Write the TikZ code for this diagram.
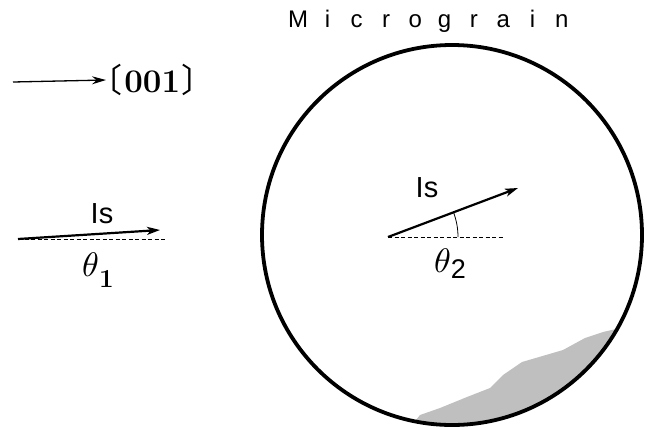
\documentclass[tikz,border=0pt]{standalone}
\usepackage{fontspec}
\setsansfont{Liberation Sans}
\newfontfamily\cjk{Noto Sans CJK JP}
\DeclareFontShape{OML}{cmm}{m}{it}{<->cmmi10}{}
\usetikzlibrary{arrows.meta}
\tikzset{
  vec/.style={line width=2.2pt,-{Stealth[length=13pt,width=8pt,inset=3.5pt]}},
  ref/.style={line width=0.8pt,dash pattern=on 4pt off 2.5pt},
  lbl/.style={inner sep=0pt,font=\sffamily\fontsize{29}{29}\selectfont},
  grain/.style={line width=3.8pt},
}
\begin{document}
\begin{tikzpicture}[x=1pt,y=-1pt]
\useasboundingbox (0,0) rectangle (647,429);
% circle (micrograin)
\coordinate (c) at (452,235);
\begin{scope}
  \clip (c) ellipse [x radius=190, y radius=190];
  \fill[black!25] (420,415) -- (440,408) -- (467,397) -- (490,388) -- (503,375) -- (522,362) -- (563,350) -- (585,338) -- (603,332) -- (625,327) -- (660,327) -- (660,440) -- (400,440) -- cycle;
\end{scope}
\draw[grain] (c) ellipse [x radius=190, y radius=190];
% title
\node[inner sep=0pt,font=\sffamily\fontsize{24}{24}\selectfont] (title) at (430,21)
  {\makebox[29.3pt]{M}\makebox[29.3pt]{i}\makebox[29.3pt]{c}\makebox[29.3pt]{r}\makebox[29.3pt]{o}\makebox[29.3pt]{g}\makebox[29.3pt]{r}\makebox[29.3pt]{a}\makebox[29.3pt]{i}\makebox[29.3pt]{n}};
% [001] direction
\coordinate (d0) at (13,82);
\node[inner sep=0pt,anchor=west,font=\fontsize{33}{33}\selectfont] (dir) at (106,80)
  {{\cjk\hspace{-0.5em}〔}\hspace{0.05em}\textbf{001}\hspace{0.05em}{\cjk 〕\hspace{-0.5em}}};
\draw[line width=1.3pt,-{Stealth[length=14pt,width=8pt]}] (d0) -- (dir.west);
% left vector
\coordinate (a0) at (18,239);
\coordinate (a1) at (160,230);
\coordinate (a2) at (165,239);
\draw[ref] (a0) -- (a2);
\draw[vec] (a0) -- (a1);
\node[lbl] (is1) at (102,214) {Is};
\node[inner sep=0pt] (th1) at (98,270) {\fontsize{34}{34}\selectfont$\theta$\raisebox{-11pt}{\fontsize{26}{26}\selectfont\bfseries 1}};
% right vector
\coordinate (b0) at (388,237);
\coordinate (b1) at (518,188);
\coordinate (b2) at (503,237);
\draw[ref] (b0) -- (b2);
\draw[vec] (b0) -- (b1);
\draw[line width=0.8pt] ([shift={(0:70)}]b0) arc[start angle=0,end angle=-20.6,radius=70];
\node[lbl] (is2) at (427,188) {Is};
\node[inner sep=0pt] (th2) at (450,264) {\fontsize{34}{34}\selectfont$\theta$\raisebox{-6pt}{\fontsize{27}{27}\selectfont\sffamily 2}};
\end{tikzpicture}
\end{document}
